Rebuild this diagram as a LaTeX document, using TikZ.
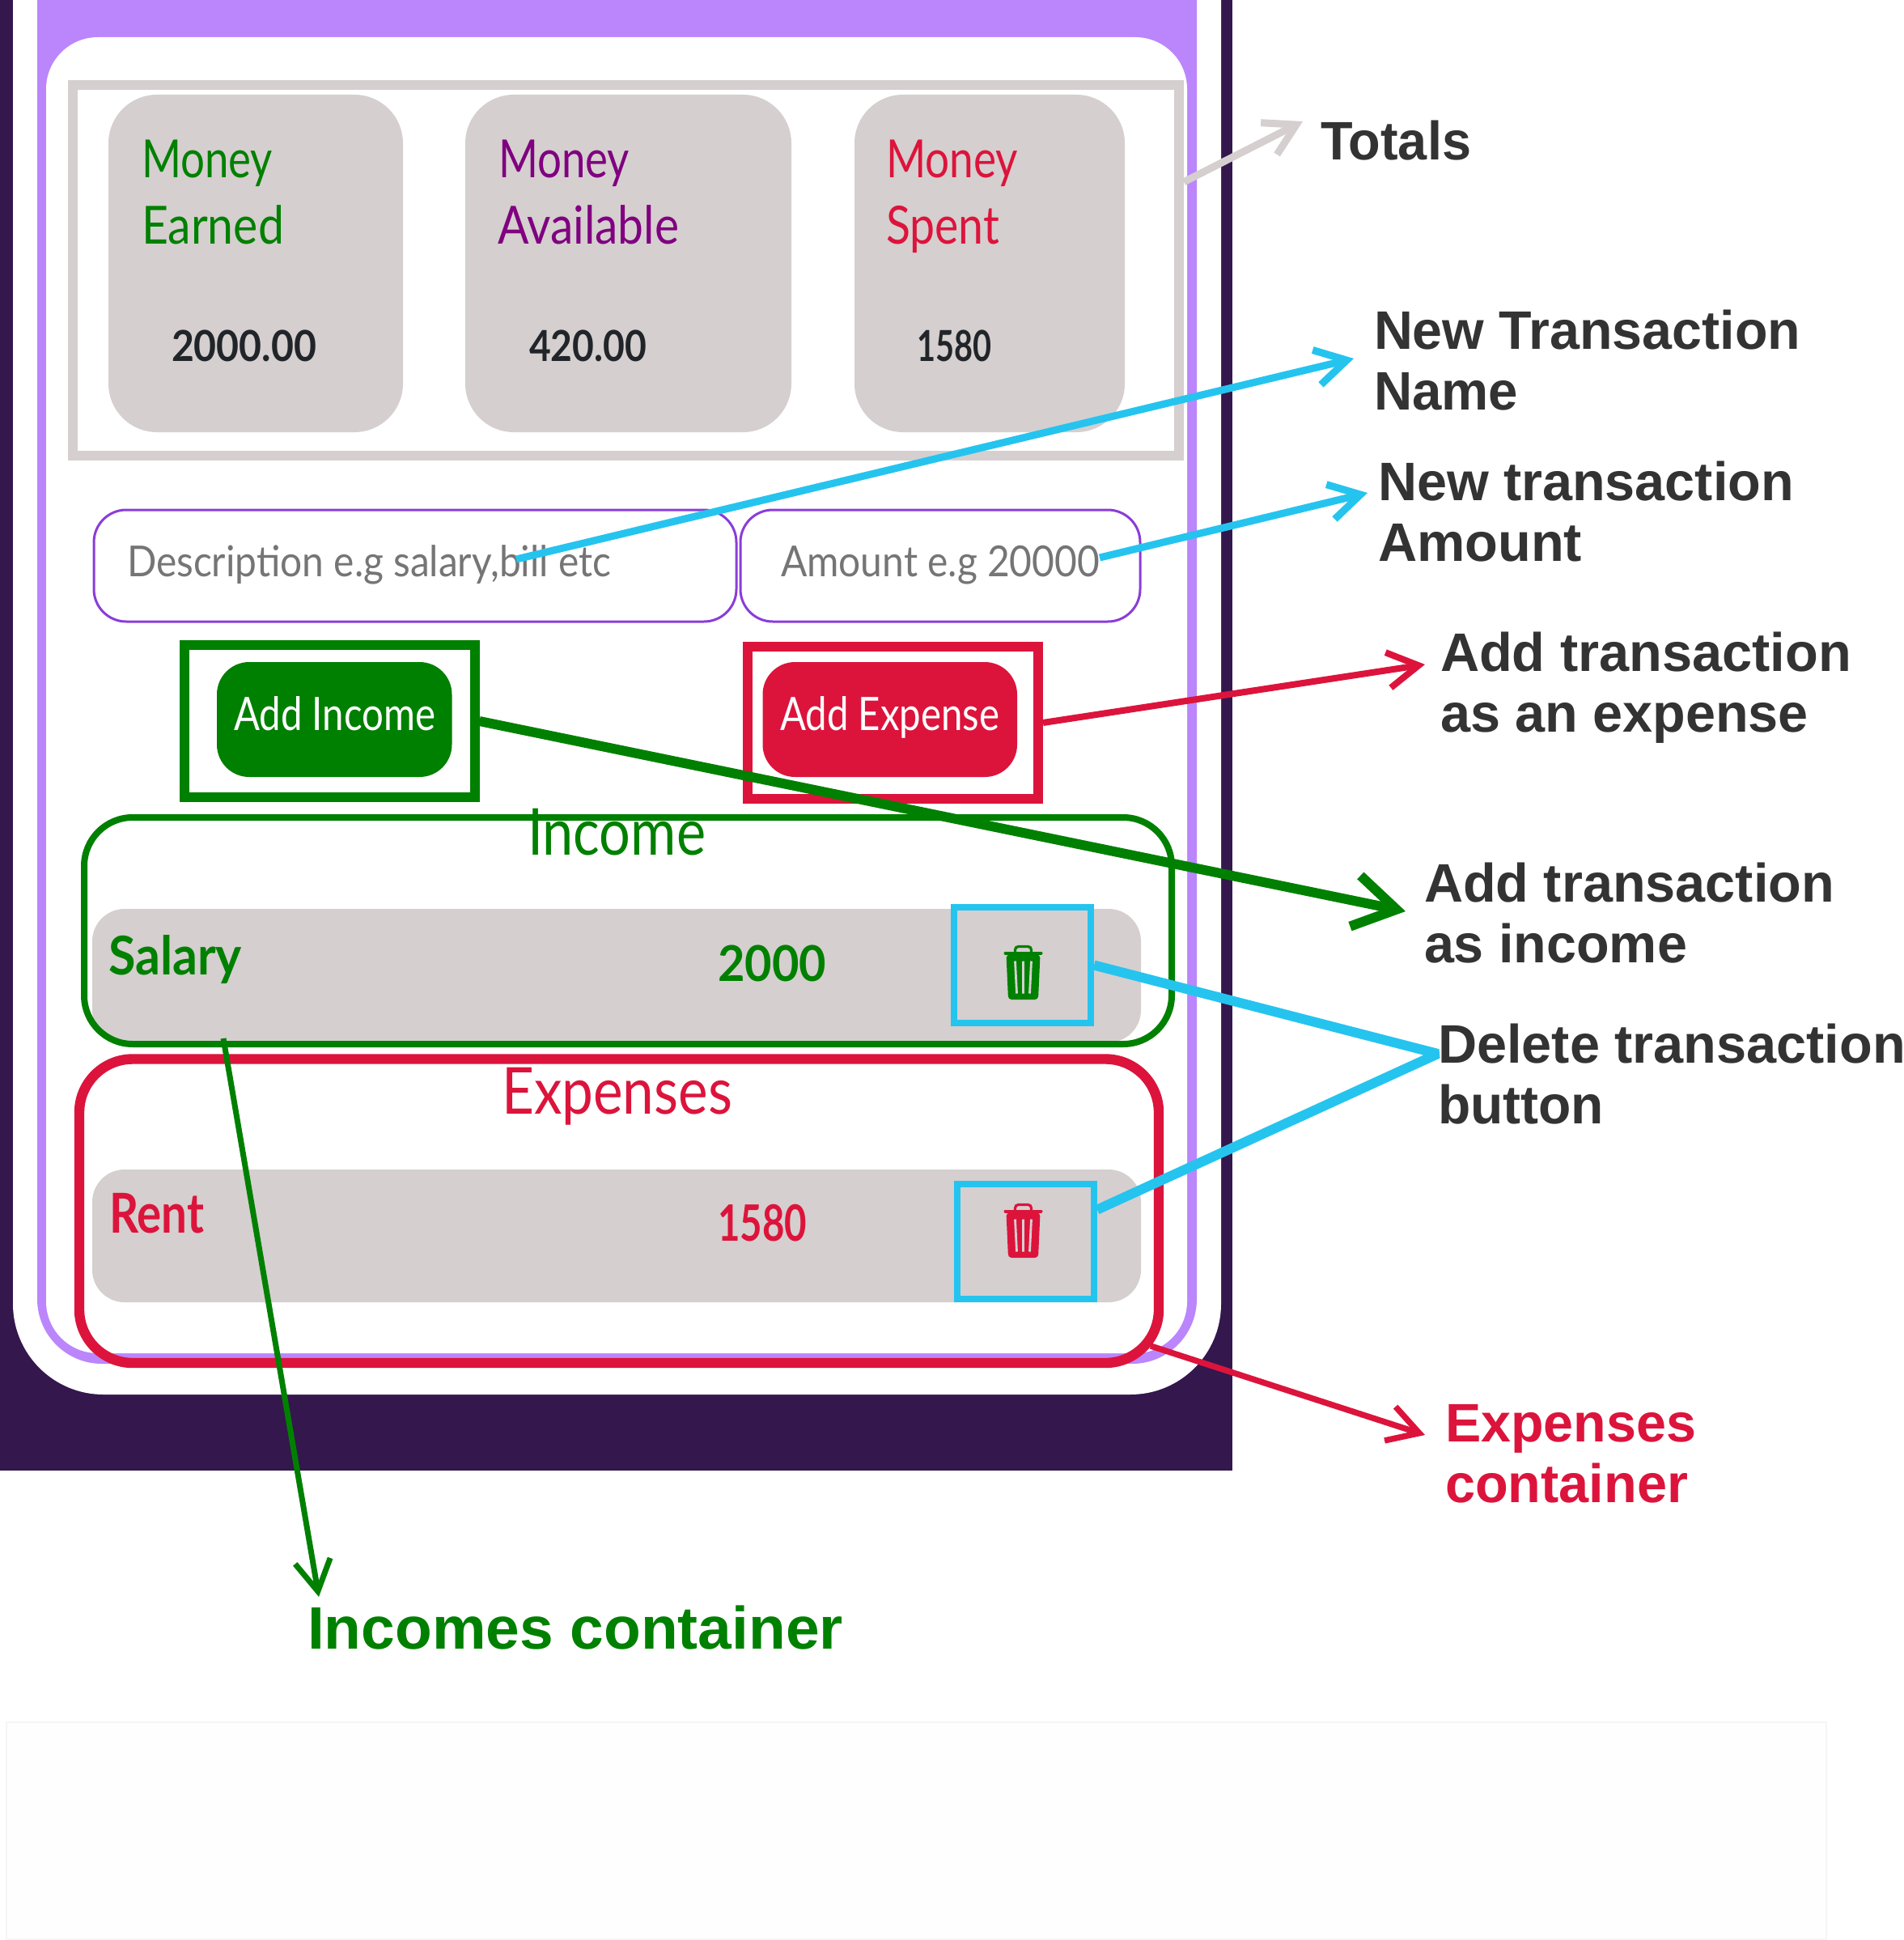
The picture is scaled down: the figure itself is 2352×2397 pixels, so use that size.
\documentclass[tikz,border=0pt]{standalone}
\usepackage{fontspec}
\usepackage{graphicx}
\usetikzlibrary{arrows.meta}
\setmainfont{Liberation Sans}
\newfontfamily\uifont{Lato}
\definecolor{dark}{HTML}{33174D}
\definecolor{lav}{HTML}{BB86FC}
\definecolor{cardgray}{HTML}{D5CFCF}
\definecolor{crim}{HTML}{DC143C}
\definecolor{grn}{HTML}{008000}
\definecolor{cyanl}{HTML}{25C4EF}
\definecolor{purp}{HTML}{800080}
\definecolor{inbd}{HTML}{8A3DD9}
\definecolor{ink}{HTML}{333333}
\definecolor{num}{HTML}{212529}
\definecolor{hint}{HTML}{757575}
\definecolor{faintfill}{HTML}{FEFEFE}
\definecolor{faintline}{HTML}{F5F5F5}
\newcommand\fitw[2]{\resizebox{\dimexpr #1pt/2\relax}{\height}{#2}}
\newcommand\ubox[6]{%
  \pgfmathsetmacro\ucx{(#2+#4)/2}\pgfmathsetmacro\ucy{(#3+#5)/2}%
  \pgfmathsetmacro\uw{(#4-#2)/2}\pgfmathsetmacro\uh{(#5-#3)/2}%
  \node[minimum width=\uw pt,minimum height=\uh pt,inner sep=0pt,#6] (#1) at (\ucx,\ucy) {};}
\newcommand\uit[7]{\node[uitext,text=#6] (#1) at (#2,#3) {\uifont\fontsize{#5}{#5}\selectfont #7};}
\newcommand\trashcan[3]{%
  \begin{scope}[shift={(#1,#2)}]
    \fill[#3,rounded corners=2pt] (-21,-22) -- (21,-22) -- (18.5,33.5) -- (-18.5,33.5) -- cycle;
    \draw[#3,line width=2pt,line cap=round] (-22,-24) -- (22,-24);
    \draw[#3,line width=1.6pt,rounded corners=2pt] (-10,-24) -- (-10,-32) -- (10,-32) -- (10,-24);
    \draw[cardgray,line width=1.4pt] (-10,-14) -- (-8,26) (0,-14) -- (0,26) (10,-14) -- (8,26);
  \end{scope}}
\tikzset{
  x=0.5pt,y=-0.5pt,
  uitext/.style={anchor=base west,inner sep=0pt,outer sep=0pt},
  lab/.style={anchor=base west,inner sep=0pt,outer sep=0pt,align=left,text=ink,font=\bfseries\fontsize{33.5}{37.5}\selectfont},
  card/.style={fill=cardgray,rounded corners=30pt},
  rowbar/.style={fill=cardgray,rounded corners=20pt},
  inp/.style={draw=inbd,fill=white,line width=1.5pt,rounded corners=20pt},
  bluebox/.style={draw=cyanl,line width=4pt},
  conn/.style={line join=miter,-{Straight Barb[length=19pt,width=22pt]}}
}
\begin{document}
\begin{tikzpicture}
\useasboundingbox (0,0) rectangle (2352,2397);
% faint rectangle at the foot
\fill[fill=faintfill,draw=faintline,line width=1pt] (8,2128) rectangle (2257,2396);
% phone frame
\fill[dark] (0,0) rectangle (1523,1817);
\begin{scope}
\clip (0,0) rectangle (1523,1817);
\fill[white,rounded corners=56pt] (16,-200) rectangle (1509,1723);
\fill[lav,rounded corners=40pt] (46,-200) rectangle (1479,1685);
\end{scope}
\ubox{screen}{57}{46}{1467}{1672}{fill=white,rounded corners=32pt}
% totals
\ubox{totalsbox}{90}{105}{1457}{563}{draw=cardgray,line width=6pt}
\ubox{cardA}{134}{117}{498}{534}{card}
\ubox{cardB}{575}{117}{978}{534}{card}
\ubox{cardC}{1056}{117}{1390}{534}{card}
\uit{t1}{175}{220}{162}{32.5}{grn}{\fitw{162}{Money}}
\uit{t2}{175}{301}{176}{32.5}{grn}{\fitw{176}{Earned}}
\uit{t3}{616}{220}{162}{32.5}{purp}{\fitw{162}{Money}}
\uit{t4}{615}{301}{224}{32.5}{purp}{\fitw{224}{Available}}
\uit{t5}{1095}{220}{163}{32.5}{crim}{\fitw{163}{Money}}
\uit{t6}{1095}{301}{140}{32.5}{crim}{\fitw{140}{Spent}}
\uit{v1}{212}{446}{179}{26.4}{num}{\bfseries\fitw{179}{2000.00}}
\uit{v2}{654}{446}{145}{26.4}{num}{\bfseries\fitw{145}{420.00}}
\uit{v3}{1133}{446}{92}{26.4}{num}{\bfseries\fitw{92}{1580}}
% inputs
\ubox{inputA}{116}{630}{910}{768}{inp}
\ubox{inputB}{915}{630}{1409}{768}{inp}
\uit{h1}{157}{712}{598}{26.4}{hint}{\fitw{598}{Description e.g salary,bill etc}}
\uit{h2}{965}{712}{394}{26.4}{hint}{\fitw{394}{Amount e.g 20000}}
% buttons
\ubox{addIncBox}{228}{797}{586.5}{985}{draw=grn,line width=6pt}
\ubox{addExpBox}{924}{799}{1283}{987}{draw=crim,line width=6pt}
\ubox{addInc}{268}{818}{558.5}{960}{fill=grn,rounded corners=20pt}
\ubox{addExp}{942.5}{818}{1257}{960}{fill=crim,rounded corners=20pt}
\uit{b1}{289}{902}{249}{28.5}{white}{\fitw{249}{Add Income}}
\uit{b2}{964}{902}{271}{28.5}{white}{\fitw{271}{Add Expense}}
% rows
\ubox{rowInc}{114}{1123}{1410}{1288}{rowbar}
\ubox{rowExp}{114}{1445}{1410}{1609}{rowbar}
% containers
\ubox{incBox}{104}{1010}{1448}{1290}{draw=grn,line width=4pt,rounded corners=30pt}
\ubox{expBox}{98}{1308.5}{1432}{1684}{draw=crim,line width=6.2pt,rounded corners=33pt}
\uit{s1}{652}{1056}{220}{40}{grn}{\fitw{220}{Income}}
\uit{s2}{620}{1376}{285}{40}{crim}{\fitw{285}{Expenses}}
\uit{r1}{134}{1204}{165}{33}{grn}{\bfseries\fitw{165}{Salary}}
\uit{r2}{887}{1212}{134}{30.5}{grn}{\bfseries\fitw{134}{2000}}
\uit{r3}{135}{1523}{117}{34}{crim}{\bfseries\fitw{117}{Rent}}
\uit{r4}{887}{1533}{110}{31}{crim}{\bfseries\fitw{110}{1580}}
% trash buttons
\trashcan{1264.5}{1201.5}{grn}
\trashcan{1264.5}{1520.5}{crim}
\ubox{delA}{1179}{1121}{1348}{1264}{bluebox}
\ubox{delB}{1183}{1463}{1352}{1605}{bluebox}
% labels (a two-line node sits on its last baseline)
\node[lab] (lTotals) at (1632,198) {\fitw{186}{Totals}};
\node[lab] (lName) at (1698,506) {\fitw{527}{New Transaction}\\\fitw{178}{Name}};
\node[lab] (lAmount) at (1703,693) {\fitw{514}{New transaction}\\\fitw{252}{Amount}};
\node[lab] (lExpense) at (1780,904) {\fitw{508}{Add transaction}\\\fitw{455}{as an expense}};
\node[lab] (lIncome) at (1760,1189) {\fitw{507}{Add transaction}\\\fitw{325}{as income}};
\node[lab] (lDelete) at (1777,1388) {\fitw{578}{Delete transaction}\\\fitw{205}{button}};
\node[lab,text=crim] (lExpCont) at (1786,1856) {\fitw{310}{Expenses}\\\fitw{300}{container}};
\node[lab,text=grn,font=\bfseries\fontsize{37}{37}\selectfont] (lIncCont) at (380,2037) {\fitw{662}{Incomes container}};
% connector ends
\coordinate (totTip) at (1610,150);
\coordinate (nameFrom) at (638,691);
\coordinate (nameTip) at (1673,443);
\coordinate (amtFrom) at (1359,689);
\coordinate (amtTip) at (1690,609);
\coordinate (expTip) at (1761,821);
\coordinate (incTip) at (1737,1126);
\coordinate (delMeet) at (1777,1302);
\coordinate (expFrom) at (1422,1663);
\coordinate (expContTip) at (1761,1773);
\coordinate (incFrom) at (276,1283);
\coordinate (incContTip) at (394,1973);
% connectors
\draw[conn,draw=cardgray,line width=4.5pt] (totalsbox.9.3) -- (totTip);
\draw[conn,draw=cyanl,line width=4.5pt] (nameFrom) -- (nameTip);
\draw[conn,draw=cyanl,line width=4.5pt] (amtFrom) -- (amtTip);
\draw[conn,draw=crim,line width=4pt] (addExpBox.east) -- (expTip);
\draw[draw=grn,line width=6pt,-{Straight Barb[length=26pt,width=32pt]}] (addIncBox.east) -- (incTip);
\draw[draw=cyanl,line width=6pt,line join=bevel] (delA.east) -- (delMeet) -- (delB.24.6);
\draw[conn,draw=crim,line width=3.7pt] (expFrom) -- (expContTip);
\draw[conn,draw=grn,line width=3.5pt] (incFrom) -- (incContTip);
\end{tikzpicture}
\end{document}
